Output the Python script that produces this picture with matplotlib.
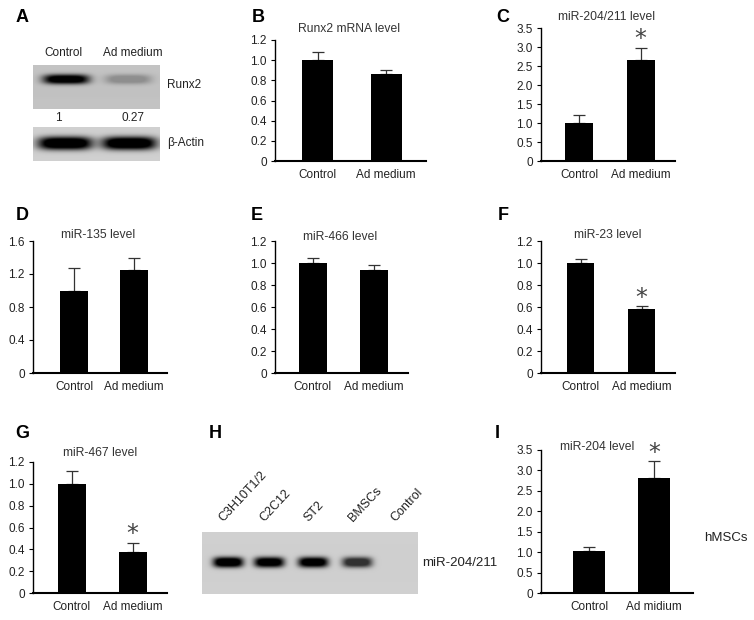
import numpy as np
import matplotlib
matplotlib.use('Agg')
import matplotlib.pyplot as plt

plt.rcParams['font.family'] = ['Liberation Sans', 'DejaVu Sans']

# ---------------- data ----------------
groups = ['Control', 'Ad medium']
groups_i = ['Control', 'Ad midium']

runx2_mrna = [1.00, 0.86]
runx2_mrna_err = [0.08, 0.04]
mir204_211 = [1.00, 2.67]
mir204_211_err = [0.22, 0.31]
mir135 = [1.00, 1.25]
mir135_err = [0.27, 0.15]
mir466 = [1.00, 0.94]
mir466_err = [0.05, 0.04]
mir23 = [1.00, 0.58]
mir23_err = [0.04, 0.03]
mir467 = [1.00, 0.38]
mir467_err = [0.12, 0.08]
mir204_h = [1.02, 2.82]
mir204_h_err = [0.10, 0.40]

ticks_12 = [0, 0.2, 0.4, 0.6, 0.8, 1.0, 1.2]
ticks_35 = [0, 0.5, 1.0, 1.5, 2.0, 2.5, 3.0, 3.5]
ticks_16 = [0, 0.4, 0.8, 1.2, 1.6]

blot_lanes = ['Control', 'Ad medium']
runx2_band = [1.0, 0.27]
runx2_quant = ['1', '0.27']
actin_band = [1.0, 1.0]
gel_lanes = ['C3H10T1/2', 'C2C12', 'ST2', 'BMSCs', 'Control']
gel_band = [1.0, 0.95, 0.95, 0.72, 0.0]

# ---------------- figure ----------------
W, H = 754, 620
fig = plt.figure(figsize=(W / 100, H / 100), dpi=100)
fig.patch.set_facecolor('white')

ov = fig.add_axes([0, 0, 1, 1], zorder=0)
ov.set_xlim(0, W)
ov.set_ylim(H, 0)
ov.axis('off')

FS = 8.5
TXT = '#222222'


def blot(x0, y0, x1, y1, centers, hw, cy, hh, strengths, dark, bg):
    xs = np.arange(x0, x1, 0.5)
    ys = np.arange(y0, y1, 0.5)
    X, Y = np.meshgrid(xs, ys)
    img = np.full(X.shape, bg)
    img = img - 0.03 * np.exp(-((Y - (y0 + y1) / 2) / (y1 - y0)) ** 2)
    for cx, s in zip(centers, strengths):
        core = np.exp(-(np.abs(X - cx) / hw) ** 4) * np.exp(-(np.abs(Y - cy) / hh) ** 2.5)
        img = img - dark * s * np.clip(core * 1.3, 0, 1)
    img = np.clip(img, 0, 1)
    ov.imshow(img, cmap='gray', vmin=0, vmax=1, extent=(x0, x1, y1, y0),
              interpolation='bilinear', aspect='auto', zorder=1)


# Panel A: western blot
blot(33, 65, 160, 109, [66, 128], 23, 79, 4.8, runx2_band, 0.75, 0.79)
blot(33, 127, 160, 161, [65, 129], 27, 143, 6.5, actin_band, 0.86, 0.84)
for x, lab in zip([63, 133], blot_lanes):
    ov.text(x, 53, lab, ha='center', va='center', fontsize=FS, color=TXT)
for x, lab in zip([58, 133], runx2_quant):
    ov.text(x, 118, lab, ha='center', va='center', fontsize=FS, color=TXT)
ov.text(167, 85, 'Runx2', ha='left', va='center', fontsize=FS, color=TXT)
ov.text(167, 143, 'β-Actin', ha='left', va='center', fontsize=FS, color=TXT)

# Panel H: gel
gel_x = [228, 269, 313, 357, 400]
blot(202, 532, 418, 594, gel_x, 15, 562, 5.2, gel_band, 0.85, 0.84)
for x, lab in zip(gel_x, gel_lanes):
    ov.text(x - 2, 524, lab, ha='left', va='bottom', rotation=47,
            rotation_mode='anchor', fontsize=9, color=TXT)
ov.text(422, 563, 'miR-204/211', ha='left', va='center', fontsize=9.5, color=TXT)
ov.text(704, 538, 'hMSCs', ha='left', va='center', fontsize=9.5, color=TXT)

# panel letters
letters = [('A', 22, 18), ('B', 258, 18), ('C', 503, 18),
           ('D', 22, 215), ('E', 257, 215), ('F', 503, 215),
           ('G', 22, 433), ('H', 215, 433), ('I', 497, 433)]
for l, x, y in letters:
    ov.text(x, y, l, ha='center', va='center', fontsize=13, fontweight='bold', color='black')

# ---------------- bar panels ----------------
panels = [
    dict(title='Runx2 mRNA level', vals=runx2_mrna, errs=runx2_mrna_err, star=[False, False],
         ticks=ticks_12, cats=groups, box=(275, 40, 426, 161), cen=(317.5, 386), bw=31, txy=(349, 29)),
    dict(title='miR-204/211 level', vals=mir204_211, errs=mir204_211_err, star=[False, True],
         ticks=ticks_35, cats=groups, box=(541, 28, 675, 161), cen=(579, 640.5), bw=28, txy=(606, 17)),
    dict(title='miR-135 level', vals=mir135, errs=mir135_err, star=[False, False],
         ticks=ticks_16, cats=groups, box=(33, 241, 167, 373), cen=(74, 133.5), bw=28, txy=(98, 235)),
    dict(title='miR-466 level', vals=mir466, errs=mir466_err, star=[False, False],
         ticks=ticks_12, cats=groups, box=(275, 241, 408, 373), cen=(312.5, 373.5), bw=28, txy=(340, 237)),
    dict(title='miR-23 level', vals=mir23, errs=mir23_err, star=[False, True],
         ticks=ticks_12, cats=groups, box=(541, 241, 675, 373), cen=(580.5, 641.5), bw=27, txy=(608, 235)),
    dict(title='miR-467 level', vals=mir467, errs=mir467_err, star=[False, True],
         ticks=ticks_12, cats=groups, box=(33, 462, 167, 593), cen=(71.5, 132.5), bw=28, txy=(100, 453)),
    dict(title='miR-204 level', vals=mir204_h, errs=mir204_h_err, star=[False, True],
         ticks=ticks_35, cats=groups_i, box=(541, 450, 693, 593), cen=(589, 654), bw=32, txy=(597, 447)),
]

for p in panels:
    L, T, R, B = p['box']
    c0, c1 = p['cen']
    unit = c1 - c0
    ax = fig.add_axes([L / W, 1 - B / H, (R - L) / W, (B - T) / H], zorder=2)
    ax.patch.set_alpha(0)
    x = np.arange(len(p['vals']))
    ax.bar(x, p['vals'], width=p['bw'] / unit, color='black', zorder=2)
    ax.errorbar(x, p['vals'], yerr=[np.zeros(len(x)), p['errs']], fmt='none',
                ecolor='#333333', elinewidth=0.9, capsize=4, capthick=0.9, zorder=1)
    ax.set_xlim(-(c0 - L) / unit, 1 + (R - c1) / unit)
    ax.set_ylim(0, p['ticks'][-1])
    ax.set_yticks(p['ticks'])
    ax.set_yticklabels(['0' if t == 0 else f'{t:.1f}' for t in p['ticks']])
    ax.set_xticks(x)
    ax.set_xticklabels(p['cats'])
    ax.tick_params(axis='x', length=0, pad=6, labelsize=FS, labelcolor=TXT)
    ax.tick_params(axis='y', length=3, width=0.8, pad=3, labelsize=FS, labelcolor=TXT)
    for s in ['top', 'right']:
        ax.spines[s].set_visible(False)
    ax.spines['left'].set_linewidth(1.0)
    ax.spines['bottom'].set_linewidth(1.5)
    for xi, v, e, st in zip(x, p['vals'], p['errs'], p['star']):
        if st:
            ax.annotate('*', (xi, v + e), xytext=(0, 1.0), textcoords='offset points',
                        ha='center', va='baseline', fontsize=17, color='#444444',
                        family='DejaVu Sans')
    ov.text(p['txy'][0], p['txy'][1], p['title'], ha='center', va='center',
            fontsize=8.7, color='#333333')

fig.savefig('out.png', dpi=100, facecolor='white')
